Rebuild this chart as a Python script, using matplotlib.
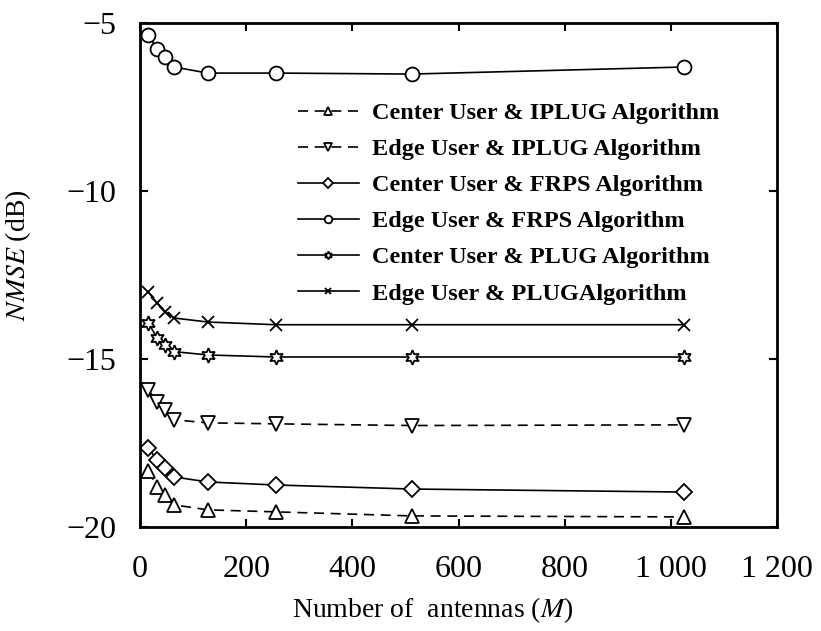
import matplotlib
matplotlib.use("Agg")
import matplotlib.pyplot as plt

plt.rcParams["font.family"] = ["Liberation Serif", "DejaVu Serif"]
plt.rcParams["mathtext.fontset"] = "stix"

# number of antennas
antennas = [16, 32, 48, 64, 128, 256, 512, 1024]

# NMSE (dB) per curve
center_iplug = [-18.33, -18.81, -19.05, -19.34, -19.49, -19.55, -19.67, -19.70]
edge_iplug = [-15.92, -16.28, -16.52, -16.81, -16.90, -16.93, -16.98, -16.96]
center_frps = [-17.65, -18.01, -18.24, -18.51, -18.66, -18.75, -18.87, -18.96]
edge_frps = [-5.36, -5.77, -6.01, -6.31, -6.49, -6.49, -6.52, -6.31]
center_plug = [-13.93, -14.37, -14.58, -14.78, -14.88, -14.94, -14.94, -14.94]
edge_plug = [-13.01, -13.33, -13.60, -13.78, -13.90, -13.98, -13.98, -13.98]

labels = [
    "Center User & IPLUG Algorithm",
    "Edge User & IPLUG Algorithm",
    "Center User & FRPS Algorithm",
    "Edge User & FRPS Algorithm",
    "Center User & PLUG Algorithm",
    "Edge User & PLUGAlgorithm",
]

x_ticks = [0, 200, 400, 600, 800, 1000, 1200]
x_ticklabels = ["0", "200", "400", "600", "800", "1 000", "1 200"]
y_ticks = [-20, -15, -10, -5]
y_ticklabels = ["\u221220", "\u221215", "\u221210", "\u22125"]

dashed = (0, (6, 4))
series = [
    (center_iplug, "^", dashed, 10),
    (edge_iplug, "v", dashed, 10),
    (center_frps, "D", "-", 8.5),
    (edge_frps, "o", "-", 10),
    (center_plug, (6, 1, 0), "-", 10.5),
    (edge_plug, "x", "-", 8),
]

fig = plt.figure(figsize=(8.21, 6.31), dpi=100)
ax = fig.add_axes([140 / 821, 1 - 527 / 631, 637 / 821, 504 / 631])

for (vals, marker, ls, ms), label in zip(series, labels):
    ax.plot(
        antennas,
        vals,
        color="black",
        linestyle=ls,
        linewidth=1.2,
        marker=marker,
        markersize=ms,
        markerfacecolor="white",
        markeredgecolor="black",
        markeredgewidth=1.3,
        label=label,
        clip_on=False,
    )

ax.set_xlim(0, 1200)
ax.set_ylim(-20, -5)
ax.set_xticks(x_ticks)
ax.set_xticklabels(x_ticklabels)
ax.set_yticks(y_ticks)
ax.set_yticklabels(y_ticklabels)
ax.tick_params(direction="in", length=6, width=1.5, labelsize=23,
               top=True, right=True)
ax.tick_params(axis="x", pad=20)
ax.tick_params(axis="y", pad=17)
for sp in ax.spines.values():
    sp.set_linewidth(2)

ax.set_xlabel("Number of  antennas ($M$)", fontsize=20)
ax.xaxis.label.set_verticalalignment("center")
ax.xaxis.set_label_coords(0.46, -0.165)
ax.set_ylabel("$NMSE$ (dB)", fontsize=20)
ax.yaxis.label.set_verticalalignment("center")
ax.yaxis.label.set_horizontalalignment("center")
ax.yaxis.set_label_coords(-0.192, 0.54)

leg = ax.legend(
    loc="upper left",
    bbox_to_anchor=(298 / 821, 1 - 102 / 631),
    bbox_transform=fig.transFigure,
    frameon=False,
    borderpad=0,
    borderaxespad=0,
    handlelength=2.5,
    handletextpad=0.55,
    labelspacing=0.58,
    markerscale=0.55,
    prop={"family": "Liberation Serif", "weight": "bold", "size": 17.5},
)

fig.savefig("out.png", dpi=100)
